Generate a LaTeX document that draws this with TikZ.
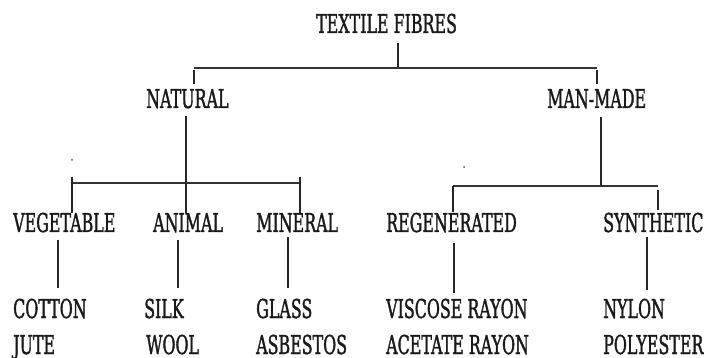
\documentclass[tikz,border=0pt]{standalone}
\usepackage{fontspec}
\newfontfamily\labfont{DejaVu Serif}[FakeStretch=0.61,FakeBold=1.3]
\begin{document}
\begin{tikzpicture}[x=1pt,y=-1pt,
  lbl/.style={font=\labfont\fontsize{26}{26}\selectfont, inner sep=0pt, anchor=base west, text=black!90},
  vline/.style={line width=1.4pt, draw=black!85},
  hbar/.style={line width=2.6pt, draw=black!80},
  dotmark/.style={fill=black!70, draw=none}]
\useasboundingbox (0,0) rectangle (712,358);
% labels
\node[lbl] (tf) at (316,33) {TEXTILE FIBRES};
\node[lbl] (nat) at (146,108) {NATURAL};
\node[lbl] (mm) at (547,108) {MAN-MADE};
\node[lbl] (veg) at (13,232) {VEGETABLE};
\node[lbl] (ani) at (153,232) {ANIMAL};
\node[lbl] (min) at (256,232) {MINERAL};
\node[lbl] (reg) at (386,232) {REGENERATED};
\node[lbl] (syn) at (603,232) {SYNTHETIC};
\node[lbl] (cot) at (13,318) {COTTON};
\node[lbl] (silk) at (144,318) {SILK};
\node[lbl] (gls) at (256,318) {GLASS};
\node[lbl] (visc) at (386,318) {VISCOSE RAYON};
\node[lbl] (nyl) at (603,318) {NYLON};
\node[lbl] (jute) at (13,354) {JUTE};
\node[lbl] (wool) at (146,354) {WOOL};
\node[lbl] (asb) at (256,354) {ASBESTOS};
\node[lbl] (acet) at (386,354) {ACETATE RAYON};
\node[lbl] (poly) at (603,354) {POLYESTER};
% junction coordinates
\coordinate (t1) at (398,43); \coordinate (t2) at (398,67);
\coordinate (b1l) at (194,68); \coordinate (b1r) at (597,68);
\coordinate (n1) at (194,70); \coordinate (n2) at (194,84);
\coordinate (m1) at (597,70); \coordinate (m2) at (597,84);
\coordinate (na1) at (186,116); \coordinate (na2) at (186,183);
\coordinate (b2l) at (72,183); \coordinate (b2r) at (300,183);
\coordinate (v1) at (72,177); \coordinate (v2) at (72,213);
\coordinate (a2) at (186,213);
\coordinate (mi1) at (300,177); \coordinate (mi2) at (300,213);
\coordinate (ma1) at (601,117); \coordinate (ma2) at (601,186);
\coordinate (b3l) at (453,186); \coordinate (b3r) at (658,186);
\coordinate (r2) at (453,212);
\coordinate (s1) at (658,190); \coordinate (s2) at (658,210);
\coordinate (c1) at (58,240); \coordinate (c2) at (58,288);
\coordinate (k1) at (178,240); \coordinate (k2) at (178,288);
\coordinate (g1) at (288,237); \coordinate (g2) at (288,288);
\coordinate (vr1) at (454,243); \coordinate (vr2) at (454,293);
\coordinate (ny1) at (647,237); \coordinate (ny2) at (647,290);
% connectors
\draw[vline] (t1) -- (t2);
\draw[hbar] (b1l) -- (b1r);
\draw[vline] (n1) -- (n2);
\draw[vline] (m1) -- (m2);
\draw[vline] (na1) -- (na2);
\draw[hbar] (b2l) -- (b2r);
\draw[vline] (v1) -- (v2);
\draw[vline] (na2) -- (a2);
\draw[vline] (mi1) -- (mi2);
\draw[vline] (ma1) -- (ma2);
\draw[hbar] (b3l) -- (b3r);
\draw[vline] (b3l) -- (r2);
\draw[vline] (s1) -- (s2);
\draw[vline] (c1) -- (c2);
\draw[vline] (k1) -- (k2);
\draw[vline] (g1) -- (g2);
\draw[vline] (vr1) -- (vr2);
\draw[vline] (ny1) -- (ny2);
% stray dots
\fill[dotmark] (72,160) circle (1pt);
\fill[dotmark] (464,167) circle (1pt);
\end{tikzpicture}
\end{document}
